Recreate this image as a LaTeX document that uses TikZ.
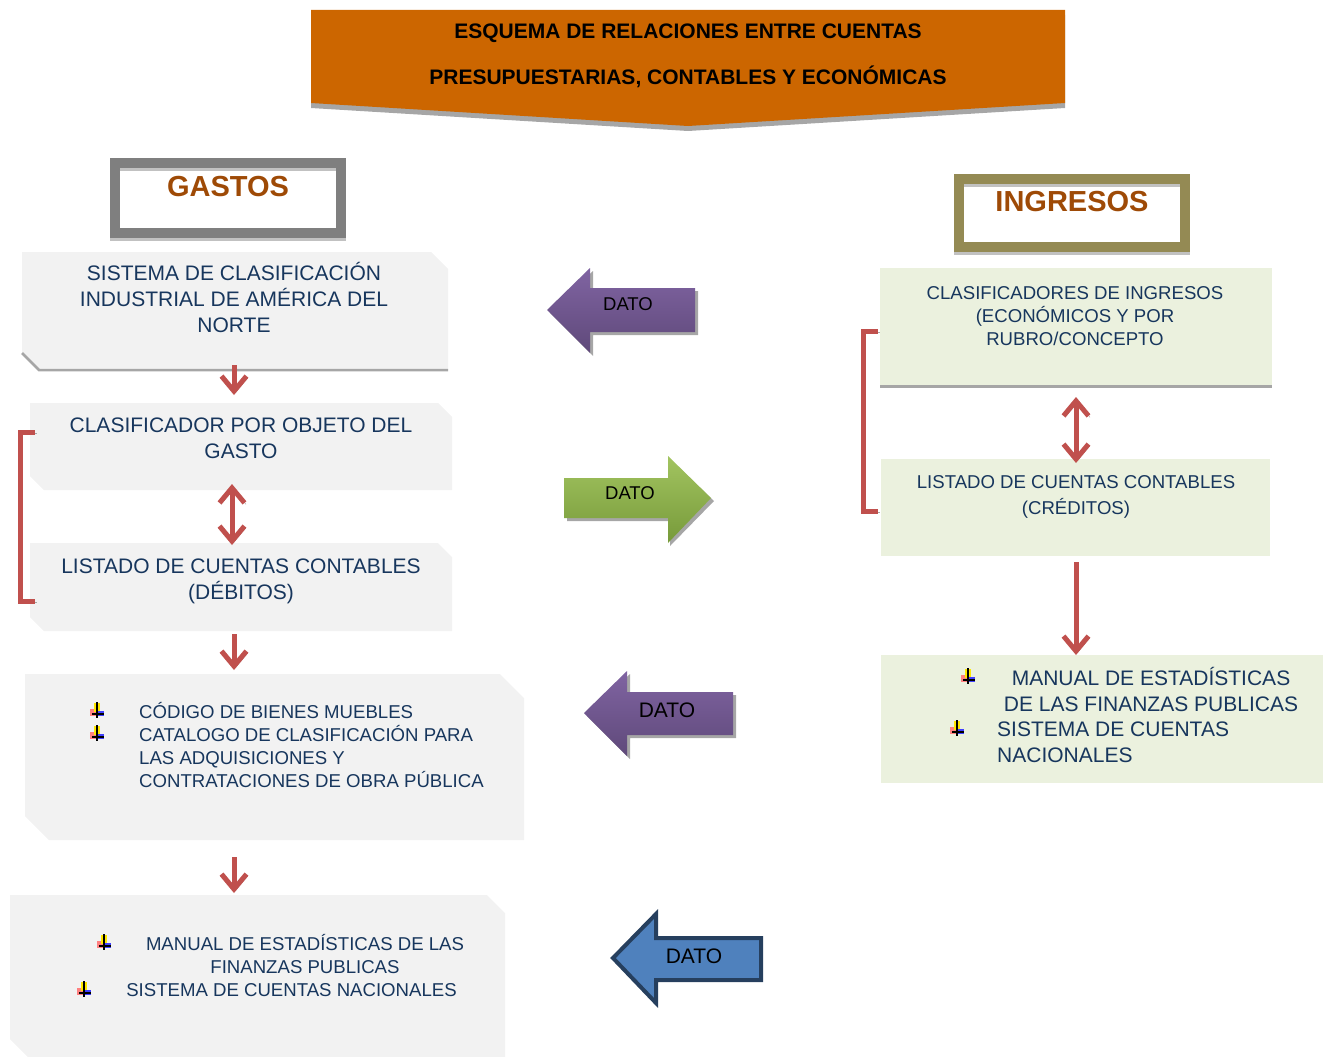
\documentclass[tikz,border=0pt]{standalone}
\usepackage{fontspec}
\setmainfont{Liberation Sans}
\usetikzlibrary{arrows.meta,calc}

\definecolor{naranja}{HTML}{CC6600}
\definecolor{sombra}{HTML}{A6A6A6}
\definecolor{gris}{HTML}{F2F2F2}
\definecolor{verde}{HTML}{EBF1DE}
\definecolor{tinta}{HTML}{17365D}
\definecolor{rojo}{HTML}{C0504D}
\definecolor{grismarco}{HTML}{7F7F7F}
\definecolor{oliva}{HTML}{948A54}
\definecolor{cafe}{HTML}{9E4A06}
\definecolor{moradoa}{HTML}{8064A2}
\definecolor{moradob}{HTML}{5F497A}
\definecolor{verdea}{HTML}{A2C460}
\definecolor{verdeb}{HTML}{779A3A}
\definecolor{azul}{HTML}{4F81BD}
\definecolor{azulborde}{HTML}{263F5E}

\tikzset{
  punta/.tip={Straight Barb[length=15pt,width=25pt]},
  vineta/.pic={
    \fill[red!50] (-7,-2) rectangle (0,5);
    \fill[yellow!90!orange] (-3,-8) rectangle (3,1);
    \fill[blue!75] (-1,0) rectangle (7,5);
    \draw[line width=1.4pt] (0,-9) -- (0,7) (-5,3) -- (7,3);
  }
}

\begin{document}
\begin{tikzpicture}[x=1pt, y=-1pt,
    caja/.style={rectangle, inner sep=0pt, outer sep=0pt},
    txtg/.style={text=tinta, align=center, inner sep=0pt, font=\fontsize{21}{26}\selectfont},
    txtp/.style={text=tinta, align=center, inner sep=0pt, font=\fontsize{18.6}{23}\selectfont},
    marco/.style={rectangle, line width=10pt, minimum width=226pt, inner sep=0pt,
      text=cafe, font=\bfseries\fontsize{29}{34}\selectfont,
      preaction={draw=sombra!70, transform canvas={shift={(0pt,-3pt)}}}},
    flecha/.style={draw=rojo, line width=5pt, -punta,
      preaction={draw=sombra, transform canvas={shift={(1.5pt,-1.5pt)}}}},
    flechad/.style={flecha, punta-punta},
    corchete/.style={draw=rojo, line width=5pt,
      preaction={draw=sombra, transform canvas={shift={(1.5pt,-1.5pt)}}}},
    dato/.style={inner sep=0pt, font=\fontsize{18.5}{22}\selectfont}]
  \useasboundingbox (0,0) rectangle (1323,1057);

  % titulo
  \fill[sombra] (311,15) -- (1065,15) -- (1065,108) -- (688,131) -- (311,108) -- cycle;
  \fill[naranja] (311,10) -- (1065,10) -- (1065,103) -- (688,126) -- (311,103) -- cycle;
  \node[font=\bfseries\fontsize{21}{46}\selectfont, align=center, inner sep=0pt] (titulo) at (688,56)
    {ESQUEMA DE RELACIONES ENTRE CUENTAS\\PRESUPUESTARIAS, CONTABLES Y ECONÓMICAS};

  % encabezados
  \node[marco, draw=grismarco, minimum height=70pt, text height=33pt, text depth=37pt] (gastos) at (228,198) {GASTOS};
  \node[marco, draw=oliva, minimum height=68pt, text height=32.5pt, text depth=35.5pt] (ingresos) at (1072,213) {INGRESOS};

  % cajas de gastos
  \node[caja, minimum width=426pt, minimum height=118pt] (scian) at (235,311) {};
  \node[caja, minimum width=422pt, minimum height=87pt] (cog) at (241,446.5) {};
  \node[caja, minimum width=422pt, minimum height=88pt] (lcd) at (241,587) {};
  \node[caja, minimum width=499pt, minimum height=166pt] (cabms) at (274.5,757) {};
  \node[caja, minimum width=495pt, minimum height=162pt] (mefp) at (257.5,976) {};
  \foreach \n/\c in {scian/17, cog/14, lcd/14, cabms/24, mefp/18}
    \fill[gris] (\n.north west) -- ($(\n.north east)+(-\c,0)$) -- ($(\n.north east)+(0,\c)$)
      -- (\n.south east) -- ($(\n.south west)+(\c,0)$) -- ($(\n.south west)+(0,-\c)$) -- cycle;
  \draw[sombra, line width=2.5pt] ($(scian.south west)+(0,-17)$) -- ($(scian.south west)+(17,0)$) -- (scian.south east);

  % cajas de ingresos
  \node[caja, fill=verde, minimum width=392pt, minimum height=117pt] (cri) at (1076,326.5) {};
  \node[caja, fill=verde, minimum width=389pt, minimum height=97pt] (lcc) at (1075.5,507.5) {};
  \node[caja, fill=verde, minimum width=442pt, minimum height=128pt] (mefpi) at (1102,719) {};
  \draw[sombra, line width=3pt] ([yshift=-1pt]cri.south west) -- ([yshift=-1pt]cri.south east);

  % textos
  \node[txtg] (tscian) at (234,297.5) {SISTEMA DE CLASIFICACIÓN\\INDUSTRIAL DE AMÉRICA DEL\\NORTE};
  \node[txtg] (tcog) at (241,438) {CLASIFICADOR POR OBJETO DEL\\GASTO};
  \node[txtg] (tlcd) at (241,581) {LISTADO DE CUENTAS CONTABLES\\(DÉBITOS)};
  \node[txtp, align=left, anchor=west] (tcabms) at (139,745.5)
    {CÓDIGO DE BIENES MUEBLES\\CATALOGO DE CLASIFICACIÓN PARA\\LAS ADQUISICIONES Y\\CONTRATACIONES DE OBRA PÚBLICA};
  \node[txtp] (tmefp) at (305,954.5) {MANUAL DE ESTADÍSTICAS DE LAS\\FINANZAS PUBLICAS};
  \node[txtp] (tscn) at (291.5,990) {SISTEMA DE CUENTAS NACIONALES};
  \node[txtp] (tcri) at (1075,316) {CLASIFICADORES DE INGRESOS\\(ECONÓMICOS Y POR\\RUBRO/CONCEPTO};
  \node[txtp, font=\fontsize{18.6}{26}\selectfont] (tlcc) at (1076,497) {LISTADO DE CUENTAS CONTABLES\\(CRÉDITOS)};
  \node[txtg] (tmefpi) at (1151,689) {MANUAL DE ESTADÍSTICAS\\DE LAS FINANZAS PUBLICAS};
  \node[txtg, align=left, anchor=west] (tscni) at (997,742.5) {SISTEMA DE CUENTAS\\NACIONALES};

  % viñetas
  \foreach \p in {(97,711), (97,734), (104,943), (84,990), (968,677), (957,729)}
    \pic at \p {vineta};

  % flechas rojas
  \draw[flecha, shorten <=-5pt, shorten >=8pt] ([xshift=-1pt]scian.south) -- ([xshift=-1pt]scian.south |- cog.north);
  \draw[flechad, shorten <=-6pt, shorten >=-2pt] ([xshift=-9pt]cog.south) -- ([xshift=-9pt]cog.south |- lcd.north);
  \draw[flecha, shorten <=3pt, shorten >=4pt] ([xshift=-7pt]lcd.south) -- ([xshift=-7pt]lcd.south |- cabms.north);
  \draw[flecha, shorten <=17pt, shorten >=2pt] ([xshift=-7pt]lcd.south |- cabms.south) -- ([xshift=-7pt]lcd.south |- mefp.north);
  \draw[flechad, shorten <=12pt, shorten >=-4pt] (cri.south) -- (cri.south |- lcc.north);
  \draw[flecha, shorten <=6pt] (cri.south |- lcc.south) -- (cri.south |- mefpi.north);
  \draw[corchete] ($(cog.west)+(5,-14.5)$) -- ++(-15,0) |- ($(lcd.west)+(5,14)$);
  \draw[corchete] ($(cri.west)+(-2,4.5)$) -- ++(-15,0) |- ($(lcc.west)+(-3,3.5)$);

  % flechas DATO
  \fill[sombra] (550,313) -- (593,271) -- (593,291) -- (698,291) -- (698,335) -- (593,335) -- (593,356) -- cycle;
  \shade[top color=moradoa, bottom color=moradob] (547,310) -- (590,268) -- (590,288) -- (695,288) -- (695,332) -- (590,332) -- (590,353) -- cycle;
  \node[dato] (dato1) at (628,304) {DATO};

  \fill[sombra] (567,481) -- (670,481) -- (670,459) -- (714,501) -- (670,546) -- (670,521) -- (567,521) -- cycle;
  \shade[top color=verdea, bottom color=verdeb] (564,478) -- (668,478) -- (668,456) -- (711,498) -- (668,543) -- (668,518) -- (564,518) -- cycle;
  \node[dato] (dato2) at (630,493) {DATO};

  \fill[sombra] (587,716) -- (630,674) -- (630,695) -- (736,695) -- (736,738) -- (630,738) -- (630,759) -- cycle;
  \shade[top color=moradoa, bottom color=moradob] (584,713) -- (627,671) -- (627,692) -- (733,692) -- (733,735) -- (627,735) -- (627,756) -- cycle;
  \node[dato, font=\fontsize{21}{24}\selectfont] (dato3) at (667,710) {DATO};

  \draw[azulborde, fill=azul, line width=4pt, line join=miter] (613,958) -- (656,914) -- (656,938) -- (761,938) -- (761,980) -- (656,980) -- (656,1003) -- cycle;
  \node[dato, font=\fontsize{21}{24}\selectfont] (dato4) at (694,956) {DATO};
\end{tikzpicture}
\end{document}
